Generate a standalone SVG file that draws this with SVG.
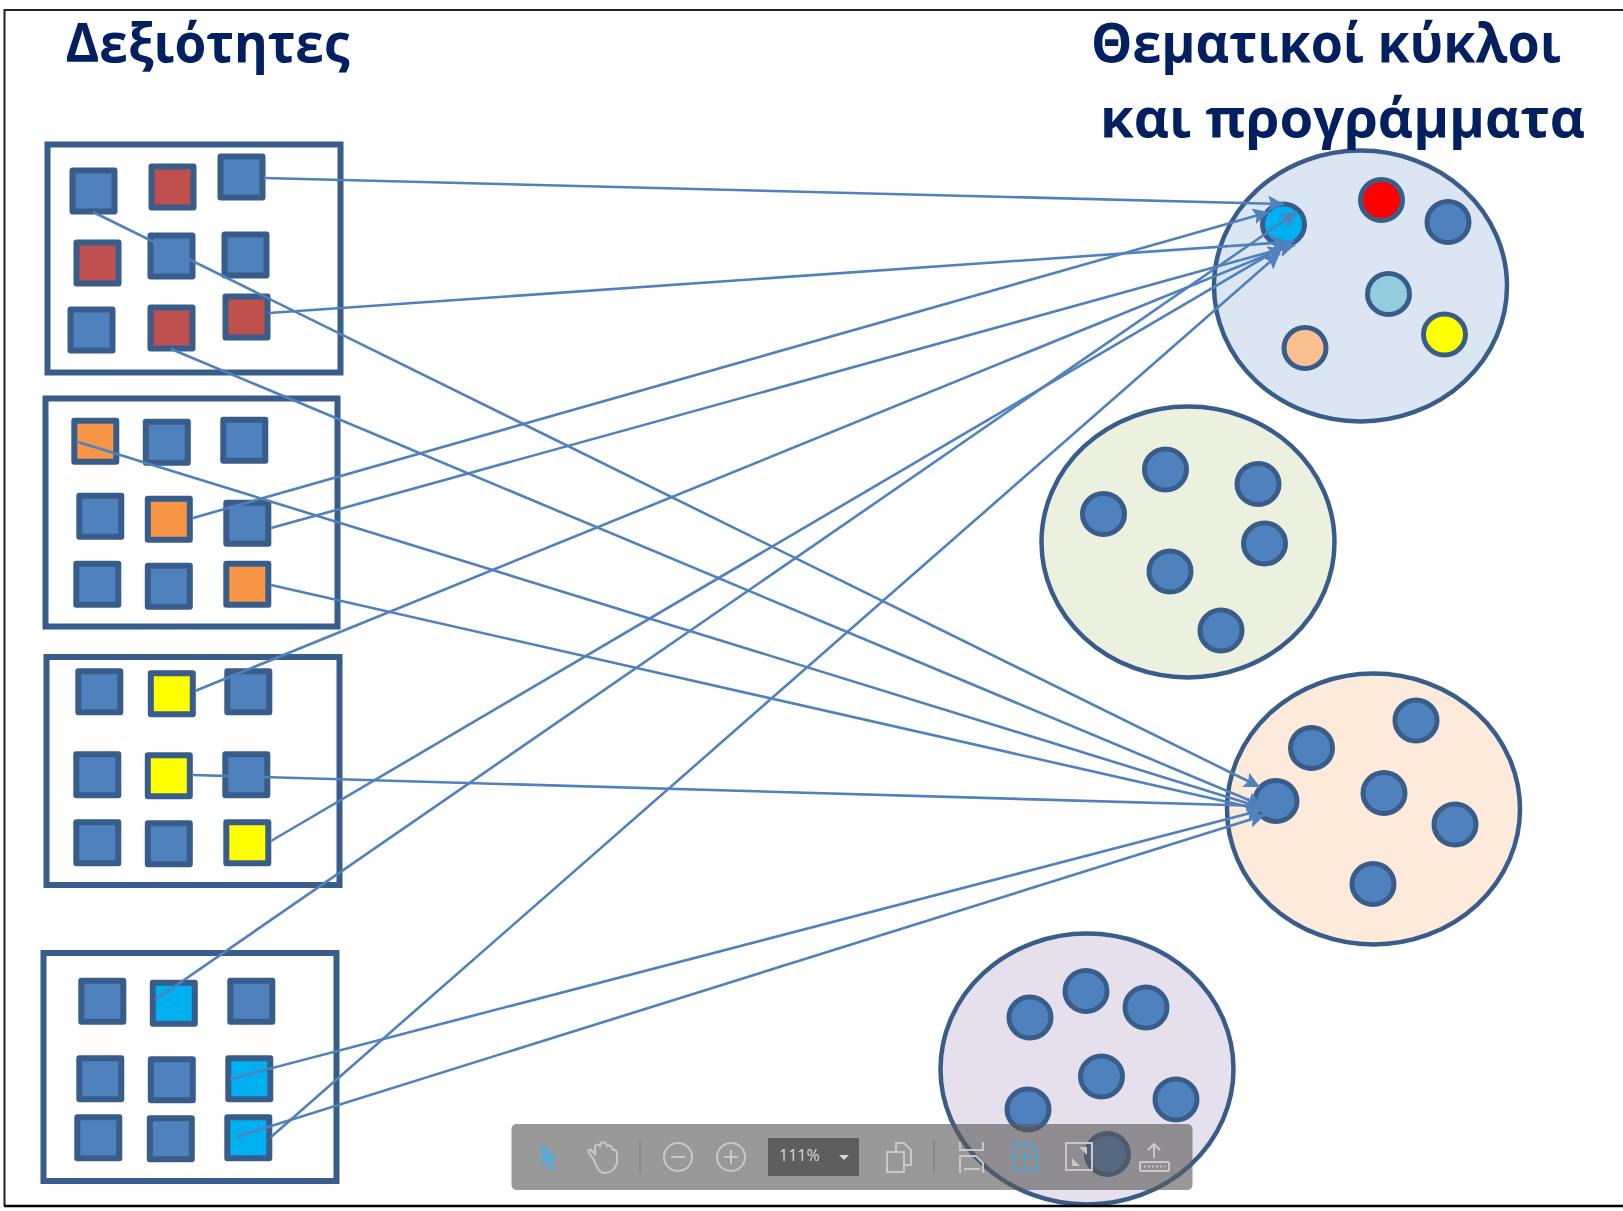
<svg xmlns="http://www.w3.org/2000/svg" width="1623" height="1211" viewBox="0 0 1623 1211">
<style>
.box{fill:#fff;stroke:#385D8A;stroke-width:6}
.sq{stroke:#385D8A;stroke-width:6;stroke-linejoin:round}
.b{fill:#4F81BD}.r{fill:#C0504D}.o{fill:#F79646}.y{fill:#FFFF00}.c{fill:#00B0F0}
.big{stroke:#385D8A;stroke-width:4.500}
.dot{stroke:#385D8A;stroke-width:5}
.title{font-family:"Open Sans","Noto Sans",sans-serif;font-weight:700;font-size:54px;fill:#002060}
.conn{stroke:#4F81BD;stroke-width:2.600;fill:none;marker-end:url(#arr)}
.ic{fill:none;stroke:#C8C8C8;stroke-width:2}
</style>
<defs>
<marker id="arr" markerUnits="userSpaceOnUse" markerWidth="18" markerHeight="16" refX="16" refY="8" orient="auto">
<path d="M0,0 L16,8 L0,16 L3,8 Z" fill="#4F81BD"/>
</marker>
</defs>
<rect width="1623" height="1211" fill="#fff"/>

<g id="box-1"><rect class="box" x="47.5" y="144.5" width="293" height="228"/></g>
<g id="box-2"><rect class="box" x="45.5" y="398.5" width="292" height="228"/></g>
<g id="box-3"><rect class="box" x="46.5" y="657" width="293" height="228"/></g>
<g id="box-4"><rect class="box" x="43.5" y="953" width="293" height="228"/></g>

<g id="skills-1">
<rect class="sq b" x="72.5" y="170.5" width="42" height="41"/><rect class="sq r" x="151.5" y="166.5" width="42" height="41"/><rect class="sq b" x="220.5" y="156.5" width="42" height="41"/>
<rect class="sq r" x="76.5" y="242.5" width="42" height="41"/><rect class="sq b" x="150.5" y="235.5" width="42" height="41"/><rect class="sq b" x="224.5" y="234.5" width="42" height="41"/>
<rect class="sq b" x="70.5" y="309.5" width="42" height="41"/><rect class="sq r" x="150.5" y="307.5" width="42" height="41"/><rect class="sq r" x="225.5" y="296.5" width="42" height="41"/>
</g>
<g id="skills-2" transform="translate(-0.7,-0.8)">
<rect class="sq o" x="75" y="421.5" width="42" height="41"/><rect class="sq b" x="146.5" y="422.5" width="42" height="41"/><rect class="sq b" x="224" y="420.5" width="42" height="41"/>
<rect class="sq b" x="80" y="496.5" width="42" height="41"/><rect class="sq o" x="148.5" y="499.5" width="42" height="41"/><rect class="sq b" x="227" y="503.5" width="42" height="41"/>
<rect class="sq b" x="77" y="564.5" width="42" height="41"/><rect class="sq b" x="148.5" y="566.5" width="42" height="41"/><rect class="sq o" x="227" y="564.5" width="42" height="41"/>
</g>
<g id="skills-3" transform="translate(-0.7,-0.8)">
<rect class="sq b" x="79" y="672" width="42" height="41"/><rect class="sq y" x="151.5" y="674" width="42" height="41"/><rect class="sq b" x="228" y="672" width="42" height="41"/>
<rect class="sq b" x="77" y="755" width="42" height="41"/><rect class="sq y" x="148.5" y="756" width="42" height="41"/><rect class="sq b" x="226" y="755" width="42" height="41"/>
<rect class="sq b" x="77" y="823" width="42" height="41"/><rect class="sq b" x="148.5" y="824" width="42" height="41"/><rect class="sq y" x="227" y="823" width="42" height="41"/>
</g>
<g id="skills-4" transform="translate(-0.7,-0.8)">
<rect class="sq b" x="82" y="981.5" width="42" height="41"/><rect class="sq c" x="153.5" y="983.5" width="42" height="41"/><rect class="sq b" x="231" y="981.5" width="42" height="41"/>
<rect class="sq b" x="80" y="1059" width="42" height="41"/><rect class="sq b" x="151.5" y="1060" width="42" height="41"/><rect class="sq c" x="229" y="1059" width="42" height="41"/>
<rect class="sq b" x="78" y="1118" width="42" height="41"/><rect class="sq b" x="150.5" y="1119" width="42" height="41"/><rect class="sq c" x="228" y="1118" width="42" height="41"/>
</g>

<g id="circle-1">
<ellipse class="big" cx="1360.5" cy="286" rx="146.500" ry="135.500" fill="#DCE6F2"/>
<ellipse class="dot c" cx="1283.5" cy="224.500" rx="21" ry="20.500"/>
<ellipse class="dot" cx="1381.500" cy="200" rx="21" ry="20.500" fill="#FF0000"/>
<ellipse class="dot b" cx="1448" cy="222" rx="21" ry="20.500"/>
<ellipse class="dot" cx="1388.500" cy="294" rx="21" ry="20.500" fill="#93CDDD"/>
<ellipse class="dot y" cx="1444.5" cy="334.5" rx="21" ry="20.500"/>
<ellipse class="dot" cx="1305" cy="348" rx="21" ry="20.500" fill="#FAC090"/>
</g>
<g id="circle-2">
<ellipse class="big" cx="1188" cy="542" rx="146.500" ry="135.500" fill="#EBF1DE"/>
<ellipse class="dot b" cx="1103.500" cy="514" rx="21" ry="20.500"/>
<ellipse class="dot b" cx="1165.500" cy="469.500" rx="21" ry="20.500"/>
<ellipse class="dot b" cx="1258" cy="484" rx="21" ry="20.500"/>
<ellipse class="dot b" cx="1264.500" cy="543.500" rx="21" ry="20.500"/>
<ellipse class="dot b" cx="1170" cy="571.500" rx="21" ry="20.500"/>
<ellipse class="dot b" cx="1221" cy="630.500" rx="21" ry="20.500"/>
</g>
<g id="circle-3">
<ellipse class="big" cx="1373.5" cy="809" rx="146.500" ry="135.500" fill="#FDEADA"/>
<ellipse class="dot b" cx="1276" cy="801" rx="21" ry="20.500"/>
<ellipse class="dot b" cx="1311.500" cy="748" rx="21" ry="20.500"/>
<ellipse class="dot b" cx="1416" cy="720.500" rx="21" ry="20.500"/>
<ellipse class="dot b" cx="1384" cy="793" rx="21" ry="20.500"/>
<ellipse class="dot b" cx="1455" cy="824.500" rx="21" ry="20.500"/>
<ellipse class="dot b" cx="1373" cy="884" rx="21" ry="20.500"/>
</g>
<g id="circle-4">
<ellipse class="big" cx="1087" cy="1069" rx="146.500" ry="135.500" fill="#E6E0EC"/>
<ellipse class="dot b" cx="1030" cy="1017.500" rx="21" ry="20.500"/>
<ellipse class="dot b" cx="1086" cy="991" rx="21" ry="20.500"/>
<ellipse class="dot b" cx="1146" cy="1007.500" rx="21" ry="20.500"/>
<ellipse class="dot b" cx="1101.500" cy="1076.500" rx="21" ry="20.500"/>
<ellipse class="dot b" cx="1028" cy="1109.5" rx="21" ry="20.500"/>
<ellipse class="dot b" cx="1176" cy="1099.500" rx="21" ry="20.500"/>
<ellipse class="dot b" cx="1107.5" cy="1154" rx="21" ry="20.500"/>
</g>

<g id="connectors">
<line class="conn" x1="264" y1="178" x2="1284" y2="204"/>
<line class="conn" x1="269" y1="313" x2="1288" y2="242"/>
<line class="conn" x1="193" y1="518" x2="1269" y2="212"/>
<line class="conn" x1="271" y1="528" x2="1295" y2="245"/>
<line class="conn" x1="195" y1="691" x2="1284" y2="248"/>
<line class="conn" x1="271" y1="841" x2="1294" y2="240"/>
<line class="conn" x1="155" y1="1000" x2="1297" y2="212"/>
<line class="conn" x1="271" y1="1137" x2="1280" y2="253"/>
<line class="conn" x1="93" y1="212" x2="1260" y2="787"/>
<line class="conn" x1="171" y1="349" x2="1263" y2="806"/>
<line class="conn" x1="78" y1="442" x2="1263" y2="808"/>
<line class="conn" x1="271" y1="585" x2="1263" y2="810"/>
<line class="conn" x1="193" y1="775" x2="1263" y2="806"/>
<line class="conn" x1="230" y1="1079" x2="1262" y2="810"/>
<line class="conn" x1="236" y1="1137" x2="1265" y2="815"/>
</g>

<g id="titles">
<text class="title" x="65.5" y="61.5" textLength="284" lengthAdjust="spacingAndGlyphs">Δεξιότητες</text>
<text class="title" x="1091" y="62" textLength="470" lengthAdjust="spacingAndGlyphs">Θεματικοί κύκλοι</text>
<text class="title" x="1100" y="137" textLength="485" lengthAdjust="spacingAndGlyphs">και προγράμματα</text>
</g>

<g id="toolbar">
<rect x="511.5" y="1124" width="681" height="66" rx="5" fill="#5A5A5A" fill-opacity="0.62"/>
<path d="M541,1143 L558,1159 L551,1160 L555,1170 L549,1170 L545,1162 L541,1167 Z" fill="#5FA8D0"/>
<path class="ic" d="M594,1160 L589,1153 Q587,1149 591,1150 L595,1154 L595,1146 Q598,1143 600,1146 L601,1143 Q604,1141 606,1144 L607,1146 Q610,1144 612,1148 L613,1150 Q617,1149 617,1153 L617,1163 Q614,1173 604,1173 Q598,1173 594,1160 Z"/>
<line x1="640" y1="1140" x2="640" y2="1173" stroke-width="1" stroke="#777"/>
<circle class="ic" cx="678" cy="1157" r="14"/><line class="ic" x1="671" y1="1157" x2="685" y2="1157"/>
<circle class="ic" cx="731" cy="1157" r="14"/><line class="ic" x1="724" y1="1157" x2="738" y2="1157"/><line class="ic" x1="731" y1="1150" x2="731" y2="1164"/>
<rect x="768" y="1138" width="91" height="38" fill="#5E5E5E"/>
<text x="779" y="1161" font-family="Open Sans, sans-serif" font-size="16" fill="#D8D8D8">111%</text>
<path d="M839,1155 L849,1155 L844,1160 Z" fill="#D8D8D8"/>
<path class="ic" d="M896,1152 L896,1143 L904,1143 L911,1150 L911,1165 L904,1165 M896,1152 L887,1152 L887,1172 L904,1172 L904,1152 Z"/>
<line x1="934" y1="1140" x2="934" y2="1173" stroke-width="1" stroke="#777"/>
<path class="ic" d="M960,1142 L960,1150 L983,1150 L983,1142 M960,1173 L960,1156 L976,1156 L983,1163 L983,1173 M964,1169 L980,1169"/>
<path d="M1014,1144 L1030,1144 L1037,1151 L1037,1170 L1014,1170 Z M1025,1150 L1025,1165 M1019,1157 L1032,1157" fill="none" stroke="#4FA3CF" stroke-width="2"/>
<rect class="ic" x="1066" y="1143" width="26" height="27"/>
<path d="M1072,1166 L1072,1158 L1080,1166 Z M1087,1147 L1087,1155 L1079,1147 Z" fill="#C8C8C8"/>
<path class="ic" d="M1154,1158 L1154,1144 M1148,1150 L1154,1144 L1160,1150"/>
<rect class="ic" x="1140" y="1162" width="29" height="9" rx="1"/>
<path d="M1144,1166.500 h21" stroke="#C8C8C8" stroke-width="2" stroke-dasharray="2 2" fill="none"/>
</g>

<g id="frame">
<rect x="0" y="1207.500" width="1623" height="3.500" fill="#fff"/>
<path d="M4.500,1206 L4.500,10 L1623,10" fill="none" stroke="#222" stroke-width="2"/>
<line x1="4" y1="1206" x2="1623" y2="1206" stroke="#000" stroke-width="2.500"/>
</g>
</svg>
